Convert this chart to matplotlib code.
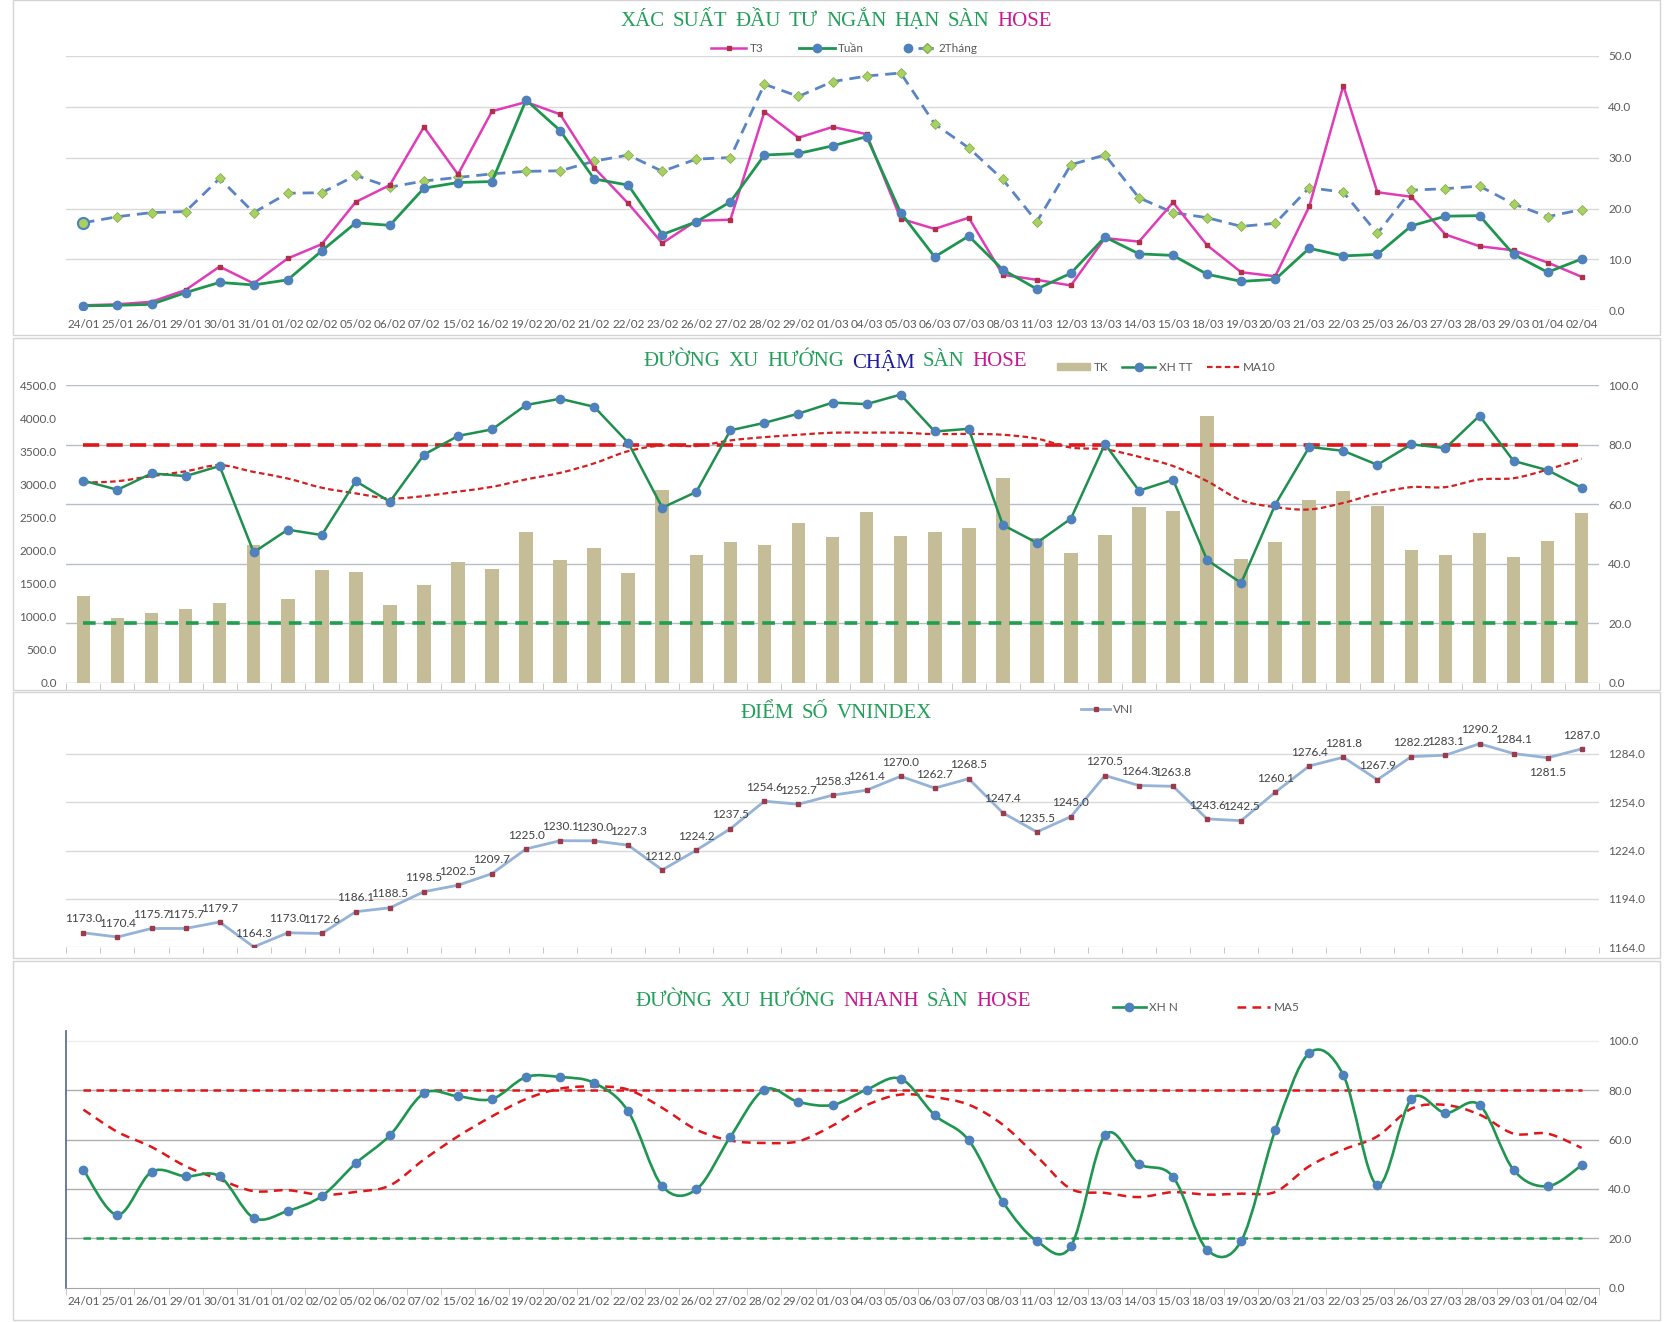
import numpy as np
import matplotlib
matplotlib.use('Agg')
import matplotlib.pyplot as plt
from matplotlib.path import Path
from matplotlib.patches import PathPatch, Rectangle, Patch
from matplotlib.lines import Line2D
from matplotlib.legend_handler import HandlerTuple
from matplotlib.ticker import FormatStrFormatter

#### data ###
dates = ['24/01', '25/01', '26/01', '29/01', '30/01', '31/01', '01/02', '02/02', '05/02', '06/02',
         '07/02', '15/02', '16/02', '19/02', '20/02', '21/02', '22/02', '23/02', '26/02', '27/02',
         '28/02', '29/02', '01/03', '04/03', '05/03', '06/03', '07/03', '08/03', '11/03', '12/03',
         '13/03', '14/03', '15/03', '18/03', '19/03', '20/03', '21/03', '22/03', '25/03', '26/03',
         '27/03', '28/03', '29/03', '01/04', '02/04']

# panel 1 - xac suat
t3 = [1.0, 1.2, 1.7, 4.0, 8.6, 5.3, 10.2, 13.0, 21.3, 24.6, 36.0, 26.7, 39.1, 40.9, 38.5,
      28.0, 21.0, 13.2, 17.6, 17.8, 39.0, 33.9, 36.0, 34.6, 18.0, 16.0, 18.2, 7.0, 6.0, 4.9,
      14.2, 13.5, 21.2, 12.8, 7.5, 6.7, 20.4, 44.1, 23.2, 22.3, 14.9, 12.6, 11.8, 9.4, 6.6]
tuan = [0.9, 1.0, 1.2, 3.5, 5.5, 5.0, 6.0, 11.7, 17.2, 16.7, 24.0, 25.1, 25.3, 41.3, 35.3,
        25.8, 24.6, 14.9, 17.4, 21.3, 30.5, 30.8, 32.3, 34.1, 19.2, 10.5, 14.6, 8.0, 4.2, 7.3,
        14.4, 11.1, 10.8, 7.1, 5.7, 6.1, 12.2, 10.7, 11.0, 16.6, 18.5, 18.6, 11.0, 7.5, 10.1]
hai_thang = [17.2, 18.4, 19.2, 19.4, 25.9, 19.2, 23.0, 23.1, 26.5, 24.2, 25.4, 26.1, 26.8, 27.3, 27.4,
             29.3, 30.5, 27.3, 29.7, 30.0, 44.4, 42.0, 44.9, 46.0, 46.6, 36.6, 31.9, 25.7, 17.4, 28.6,
             30.5, 22.1, 19.2, 18.2, 16.5, 17.1, 24.1, 23.2, 15.1, 23.6, 23.9, 24.4, 20.9, 18.4, 19.8]

# panel 2 - xu huong cham
tk = [1310, 975, 1065, 1125, 1215, 2080, 1275, 1715, 1685, 1185, 1475, 1835, 1730, 2275, 1865,
      2035, 1655, 2925, 1940, 2125, 2080, 2425, 2200, 2580, 2215, 2275, 2350, 3095, 2185, 1960,
      2230, 2655, 2595, 4030, 1880, 2125, 2760, 2910, 2670, 2005, 1940, 2260, 1910, 2140, 2565]
xh_tt = [68.0, 64.9, 70.4, 69.5, 72.9, 43.9, 51.5, 49.7, 67.8, 60.9, 76.7, 83.0, 85.2, 93.4, 95.5,
         92.8, 80.7, 58.9, 64.2, 84.9, 87.4, 90.5, 94.2, 93.7, 96.9, 84.5, 85.4, 53.1, 47.1, 55.2,
         80.3, 64.6, 68.3, 41.3, 33.6, 59.9, 79.3, 78.0, 73.3, 80.2, 78.9, 89.8, 74.6, 71.5, 65.6]
ma10 = [67.3, 67.8, 69.5, 71.1, 73.2, 70.9, 68.7, 65.6, 63.7, 62.0, 62.8, 64.3, 65.9, 68.4, 70.6,
        73.8, 77.9, 79.8, 79.6, 81.5, 82.6, 83.4, 84.1, 84.1, 84.1, 83.6, 83.7, 83.4, 82.1, 79.1,
        78.5, 76.0, 72.9, 67.8, 61.4, 59.1, 58.3, 60.5, 63.7, 65.8, 65.8, 68.4, 68.8, 71.7, 75.3]

# panel 3 - vnindex
vni = [1173.0, 1170.4, 1175.7, 1175.7, 1179.7, 1164.3, 1173.0, 1172.6, 1186.1, 1188.5,
       1198.5, 1202.5, 1209.7, 1225.0, 1230.1, 1230.0, 1227.3, 1212.0, 1224.2, 1237.5,
       1254.6, 1252.7, 1258.3, 1261.4, 1270.0, 1262.7, 1268.5, 1247.4, 1235.5, 1245.0,
       1270.5, 1264.3, 1263.8, 1243.6, 1242.5, 1260.1, 1276.4, 1281.8, 1267.9, 1282.2,
       1283.1, 1290.2, 1284.1, 1281.5, 1287.0]

# panel 4 - xu huong nhanh
xh_n = [47.7, 29.5, 46.9, 45.1, 45.1, 28.3, 31.1, 37.1, 50.4, 61.7, 78.7, 77.5, 76.4, 85.3, 85.3,
        82.9, 71.4, 41.1, 39.8, 61.1, 80.2, 75.2, 74.0, 80.2, 84.6, 69.9, 59.7, 34.8, 18.9, 16.8,
        61.7, 50.1, 44.9, 15.4, 18.9, 63.7, 95.0, 86.1, 41.5, 76.4, 70.8, 74.0, 47.7, 41.1, 49.6]
ma5 = [72.1, 63.1, 57.0, 49.2, 43.8, 39.1, 39.5, 37.6, 38.8, 41.4, 51.9, 61.3, 69.4, 76.4, 80.6,
       81.5, 80.2, 72.8, 64.0, 59.6, 58.6, 59.3, 65.6, 73.9, 78.2, 77.1, 74.1, 66.0, 53.2, 40.0,
       38.4, 36.7, 38.7, 37.7, 38.1, 38.8, 49.2, 55.9, 61.3, 72.5, 74.0, 70.1, 62.4, 62.4, 56.6]

GREEN = '#22A05A'
MAGENTA = '#C8198F'
NAVY = '#1C1CA0'
TICK_C = '#595959'
SANS = ['Lato', 'DejaVu Sans']
SERIF = ['Liberation Serif', 'DejaVu Serif']

plt.rcParams['font.family'] = SANS

fig = plt.figure(figsize=(16.79, 13.22), dpi=100)
W, H = 1568.0, 1235.0


def fx(p):
    return p / W


def fy(p):
    return 1 - p / H


def box(l, t, r, b):
    return [fx(l), fy(b), fx(r) - fx(l), (b - t) / H]


def smooth_path(xs, ys):
    # excel-like smoothed line (catmull-rom as bezier segments)
    pts = np.column_stack([xs, ys]).astype(float)
    n = len(pts)
    verts = [pts[0]]
    codes = [Path.MOVETO]
    for i in range(n - 1):
        p0 = pts[i - 1] if i > 0 else pts[i]
        p1, p2 = pts[i], pts[i + 1]
        p3 = pts[i + 2] if i + 2 < n else pts[i + 1]
        verts += [p1 + (p2 - p0) / 6, p2 - (p3 - p1) / 6, p2]
        codes += [Path.CURVE4] * 3
    return Path(verts, codes)


def color_title(xc, yc, words, size=15):
    r = fig.canvas.get_renderer()
    arts = [fig.text(0, fy(yc), w, color=c, fontsize=size, family=SERIF, va='center', ha='left')
            for w, c in words]
    ws = [a.get_window_extent(r).width for a in arts]
    gap = size * 0.38 * 100 / 72
    total = sum(ws) + gap * (len(ws) - 1)
    px = xc / W * fig.bbox.width - total / 2
    for a, w in zip(arts, ws):
        a.set_x(px / fig.bbox.width)
        px += w + gap


def style_axis(ax, yt, fmt='%.1f'):
    for s in ax.spines.values():
        s.set_visible(False)
    ax.set_yticks(yt)
    ax.yaxis.set_major_formatter(FormatStrFormatter(fmt))
    ax.tick_params(axis='y', length=0, labelsize=8.5, labelcolor=TICK_C, pad=7)


# panel frames
for t, b in [(0, 313), (316, 645), (646, 895), (898, 1233)]:
    fig.add_artist(Rectangle((fx(12), fy(b)), fx(1550) - fx(12), (b - t) / H,
                             transform=fig.transFigure, fill=False, ec='#D4D4D4', lw=1))

n = len(dates)
x = np.arange(n)

# ---------------- panel 1 ----------------
ax1 = fig.add_axes(box(62, 52, 1493, 290))
ax1.set_xlim(-0.5, n - 0.5)
ax1.set_ylim(0, 50)
ax1.yaxis.tick_right()
style_axis(ax1, np.arange(0, 51, 10))
for v in np.arange(0, 51, 10):
    ax1.axhline(v, color='#D9D9D9', lw=1, zorder=0)
ax1.plot(x, hai_thang, color='#5B84C4', lw=2, ls=(0, (4, 2.5)), marker='D', ms=5,
         mfc='#A8D063', mec='#86B04E', mew=0.6, zorder=3)
ax1.plot(x[:1], hai_thang[:1], 'o', ms=8, mfc='#A8D063', mec='#4F81BD', mew=1.5, zorder=3)
ax1.plot(x, t3, color='#E03CB8', lw=1.8, marker='s', ms=3.5, mfc='#B0304A', mec='#B0304A', zorder=4)
ax1.plot(x, tuan, color='#1E9650', lw=2, marker='o', ms=6, mfc='#4F81BD', mec='#4F81BD', zorder=5)
ax1.set_xticks(x)
ax1.set_xticklabels(dates)
ax1.tick_params(axis='x', length=0, labelsize=8.5, labelcolor=TICK_C, pad=6)

h_t3 = Line2D([], [], color='#E03CB8', lw=1.8, marker='s', ms=3.5, mfc='#B0304A', mec='#B0304A')
h_tuan = Line2D([], [], color='#1E9650', lw=2, marker='o', ms=6, mfc='#4F81BD', mec='#4F81BD')
h_2t = (Line2D([], [], ls='none', marker='o', ms=6, mfc='#4F81BD', mec='#4F81BD'),
        Line2D([], [], color='#5B84C4', lw=2, ls=(0, (2, 1.5)), marker='D', ms=5,
               mfc='#A8D063', mec='#86B04E'))
ax1.legend([h_t3, h_tuan, h_2t], ['T3', 'Tuần', '2Tháng'], loc='center left',
           bbox_to_anchor=(fx(664), fy(45)), bbox_transform=fig.transFigure, ncol=3,
           frameon=False, fontsize=8.5, labelcolor=TICK_C, handlelength=3.0, handletextpad=0.3,
           columnspacing=3.0, borderpad=0, borderaxespad=0,
           handler_map={tuple: HandlerTuple(ndivide=None, pad=0.2)})

color_title(781, 20, [('XÁC', GREEN), ('SUẤT', GREEN), ('ĐẦU', GREEN), ('TƯ', GREEN),
                      ('NGẮN', GREEN), ('HẠN', GREEN), ('SÀN', GREEN), ('HOSE', MAGENTA)])

# ---------------- panel 2 ----------------
ax2 = fig.add_axes(box(62, 360, 1493, 638))
ax2.set_xlim(-0.5, n - 0.5)
ax2.set_ylim(0, 4500)
style_axis(ax2, np.arange(0, 4501, 500))
for v in np.arange(0, 4501, 900):
    ax2.axhline(v, color='#B7BEC6', lw=1, zorder=0)
ax2.bar(x, tk, width=0.4, color='#C4BD97', zorder=2)
ax2.set_xticks([])
ax2.set_xticks(np.arange(-0.5, n, 1), minor=True)
ax2.tick_params(axis='x', which='minor', length=5, color='#BFBFBF', labelbottom=False)

ax2r = ax2.twinx()
ax2r.set_xlim(-0.5, n - 0.5)
ax2r.set_ylim(0, 100)
style_axis(ax2r, np.arange(0, 101, 20))
ax2r.hlines(80, 0, n - 1, color='#E0161B', lw=2.6, ls=(0, (4.5, 2)), zorder=3)
ax2r.hlines(20, 0, n - 1, color='#1EA04F', lw=2.6, ls=(0, (3.5, 2.2)), zorder=3)
ax2r.add_patch(PathPatch(smooth_path(x, ma10), fill=False, ec='#D42020', lw=1.6,
                         ls=(0, (2.5, 1.5)), zorder=4))
ax2r.plot(x, xh_tt, color='#1E8F4E', lw=1.8, marker='o', ms=6, mfc='#4F81BD', mec='#4F81BD', zorder=5)

h_tk = Patch(color='#C4BD97')
h_xhtt = Line2D([], [], color='#1E8F4E', lw=1.8, marker='o', ms=6, mfc='#4F81BD', mec='#4F81BD')
h_ma10 = Line2D([], [], color='#D42020', lw=1.6, ls=(0, (2.5, 1.5)))
ax2r.legend([h_tk, h_xhtt, h_ma10], ['TK', 'XH TT', 'MA10'], loc='center left',
            bbox_to_anchor=(fx(987), fy(343)), bbox_transform=fig.transFigure, ncol=3,
            frameon=False, fontsize=8.5, labelcolor=TICK_C, handlelength=2.8, handleheight=0.5,
            handletextpad=0.3, columnspacing=1.2, borderpad=0, borderaxespad=0)

color_title(780, 338, [('ĐƯỜNG', GREEN), ('XU', GREEN), ('HƯỚNG', GREEN), ('CHẬM', NAVY),
                       ('SÀN', GREEN), ('HOSE', MAGENTA)])

# ---------------- panel 3 ----------------
ax3 = fig.add_axes(box(62, 680, 1493, 885))
ax3.set_xlim(-0.5, n - 0.5)
ax3.set_ylim(1164, 1300)
ax3.yaxis.tick_right()
style_axis(ax3, np.arange(1164, 1285, 30))
for v in np.arange(1164, 1285, 30):
    ax3.axhline(v, color='#D9D9D9', lw=1, zorder=0)
ax3.plot(x, vni, color='#95B3D7', lw=2, marker='s', ms=3.5, mfc='#9B3B4B', mec='#9B3B4B', zorder=3)
for i, v in enumerate(vni):
    below = (i == 43)
    ax3.annotate('%.1f' % v, (i, v), xytext=(0, -7 if below else 6), textcoords='offset points',
                 ha='center', va='top' if below else 'bottom', fontsize=8.5, color='#404040')
ax3.set_xticks([])
ax3.set_xticks(np.arange(-0.5, n, 1), minor=True)
ax3.tick_params(axis='x', which='minor', length=4, color='#BFBFBF', labelbottom=False)
ax3.legend([Line2D([], [], color='#95B3D7', lw=2, marker='s', ms=3.5, mfc='#9B3B4B', mec='#9B3B4B')],
           ['VNI'], loc='center left', bbox_to_anchor=(fx(1010), fy(663)),
           bbox_transform=fig.transFigure, frameon=False, fontsize=8.5, labelcolor=TICK_C,
           handlelength=2.4, handletextpad=0.3, borderpad=0, borderaxespad=0)

color_title(781, 667, [('ĐIỂM', GREEN), ('SỐ', GREEN), ('VNINDEX', GREEN)])

# ---------------- panel 4 ----------------
ax4 = fig.add_axes(box(62, 963, 1493, 1203))
ax4.set_xlim(-0.5, n - 0.5)
ax4.set_ylim(0, 104)
ax4.yaxis.tick_right()
style_axis(ax4, np.arange(0, 101, 20))
ax4.spines['left'].set_visible(True)
ax4.spines['left'].set_color('#5F7391')
ax4.spines['left'].set_linewidth(1.3)
ax4.spines['bottom'].set_visible(True)
ax4.spines['bottom'].set_color('#A6A6A6')
for v in [20, 40, 60, 80]:
    ax4.axhline(v, color='#AFAFAF', lw=1, zorder=0)
ax4.axhline(100, color='#EDEDED', lw=1, zorder=0)
ax4.hlines(80, 0, n - 1, color='#E0161B', lw=1.8, ls=(0, (3, 2.2)), zorder=3)
ax4.hlines(20, 0, n - 1, color='#1EA04F', lw=1.8, ls=(0, (3, 2.2)), zorder=3)
ax4.add_patch(PathPatch(smooth_path(x, ma5), fill=False, ec='#E0161B', lw=1.8,
                        ls=(0, (3.5, 2.5)), zorder=4))
ax4.add_patch(PathPatch(smooth_path(x, xh_n), fill=False, ec='#1E9650', lw=1.9, zorder=5))
ax4.plot(x, xh_n, ls='none', marker='o', ms=6, mfc='#4F81BD', mec='#4F81BD', zorder=6)
ax4.set_xticks(x)
ax4.set_xticklabels(dates)
ax4.tick_params(axis='x', which='major', length=0, labelsize=8.5, labelcolor=TICK_C, pad=6)
ax4.set_xticks(np.arange(-0.5, n, 1), minor=True)
ax4.tick_params(axis='x', which='minor', length=5, color='#BFBFBF')

h_xhn = Line2D([], [], color='#1E9650', lw=1.9, marker='o', ms=6, mfc='#4F81BD', mec='#4F81BD')
h_ma5 = Line2D([], [], color='#E0161B', lw=1.8, ls=(0, (3.5, 2.5)))
ax4.legend([h_xhn, h_ma5], ['XH N', 'MA5'], loc='center left',
           bbox_to_anchor=(fx(1039), fy(941)), bbox_transform=fig.transFigure, ncol=2,
           frameon=False, fontsize=8.5, labelcolor=TICK_C, handlelength=2.8,
           handletextpad=0.3, columnspacing=5.0, borderpad=0, borderaxespad=0)

color_title(778, 936, [('ĐƯỜNG', GREEN), ('XU', GREEN), ('HƯỚNG', GREEN), ('NHANH', MAGENTA),
                       ('SÀN', GREEN), ('HOSE', MAGENTA)])

fig.savefig('out.png', dpi=100)
